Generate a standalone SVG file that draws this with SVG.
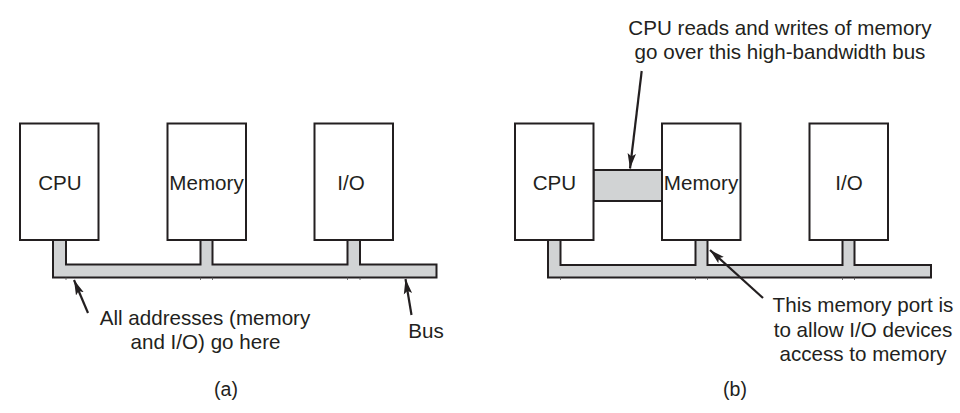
<svg xmlns="http://www.w3.org/2000/svg" width="960" height="413" viewBox="0 0 960 413">
<style>
.box{fill:#fff;stroke:#231f20;stroke-width:2}
.bus{fill:#d1d3d4;stroke:#231f20;stroke-width:2;stroke-linejoin:miter}
.tick{stroke:#555;stroke-width:0.8}
.arr{fill:none;stroke:#231f20;stroke-width:2.2;marker-end:url(#ah)}
text{font-family:"Liberation Sans",Arial,sans-serif;font-size:20.6px;fill:#231f20;text-anchor:middle}
.cap{font-size:19.5px}
</style>
<defs>
<marker id="ah" markerUnits="userSpaceOnUse" markerWidth="17" markerHeight="10" refX="15" refY="4.5" orient="auto">
<path d="M0,0.3 L15,4.5 L0,8.7 L3,4.5 z" fill="#231f20"/>
</marker>
</defs>

<g id="bus-a">
<polygon class="bus" points="53,240 53,277.5 436.5,277.5 436.5,264.5 360,264.5 360,240 347.5,240 347.5,264.5 212.5,264.5 212.5,240 200.5,240 200.5,264.5 66,264.5 66,240"/>
<line class="tick" x1="66" y1="277.5" x2="66" y2="280"/>
<line class="tick" x1="200.5" y1="277.5" x2="200.5" y2="280"/>
<line class="tick" x1="212.5" y1="277.5" x2="212.5" y2="280"/>
<line class="tick" x1="347.5" y1="277.5" x2="347.5" y2="280"/>
<line class="tick" x1="360" y1="277.5" x2="360" y2="280"/>
</g>
<g id="bus-b">
<polygon class="bus" points="548,240 548,277.5 931,277.5 931,265 854.5,265 854.5,240 842.5,240 842.5,265 707.5,265 707.5,240 695.5,240 695.5,265 560.5,265 560.5,240"/>
<rect class="bus" x="593.5" y="170" width="68.5" height="31"/>
<line class="tick" x1="560.5" y1="277.5" x2="560.5" y2="280"/>
<line class="tick" x1="695.5" y1="277.5" x2="695.5" y2="280"/>
<line class="tick" x1="707.5" y1="277.5" x2="707.5" y2="280"/>
<line class="tick" x1="842.5" y1="277.5" x2="842.5" y2="280"/>
<line class="tick" x1="854.5" y1="277.5" x2="854.5" y2="280"/>
</g>

<g id="cpu-a"><rect class="box" x="20" y="123.5" width="78.5" height="116.5"/><text x="60" y="190">CPU</text></g>
<g id="memory-a"><rect class="box" x="167.5" y="123.5" width="78.5" height="116.5"/><text x="206.5" y="190">Memory</text></g>
<g id="io-a"><rect class="box" x="314.5" y="123.5" width="78.5" height="116.5"/><text x="351" y="190">I/O</text></g>

<g id="cpu-b"><rect class="box" x="515" y="123.5" width="78.5" height="116.5"/><text x="554.5" y="190">CPU</text></g>
<g id="memory-b"><rect class="box" x="662" y="123.5" width="78.5" height="116.5"/><text x="701" y="190">Memory</text></g>
<g id="io-b"><rect class="box" x="809.5" y="123.5" width="78.5" height="116.5"/><text x="849" y="190">I/O</text></g>

<g id="connectors">
<line class="arr" x1="88" y1="313" x2="74" y2="280"/>
<line class="arr" x1="411.5" y1="315" x2="405.5" y2="279"/>
<line class="arr" x1="641.7" y1="71" x2="630" y2="168.5"/>
<line class="arr" x1="763" y1="298" x2="710" y2="250"/>
</g>

<g id="labels">
<text x="205" y="325">All addresses (memory</text>
<text x="205.5" y="349">and I/O) go here</text>
<text x="426" y="338">Bus</text>
<text x="780" y="35">CPU reads and writes of memory</text>
<text x="780" y="59">go over this high-bandwidth bus</text>
<text x="863" y="311.5">This memory port is</text>
<text x="863" y="336.5">to allow I/O devices</text>
<text x="863" y="361">access to memory</text>
<text class="cap" x="226" y="396">(a)</text>
<text class="cap" x="735" y="396">(b)</text>
</g>
</svg>
